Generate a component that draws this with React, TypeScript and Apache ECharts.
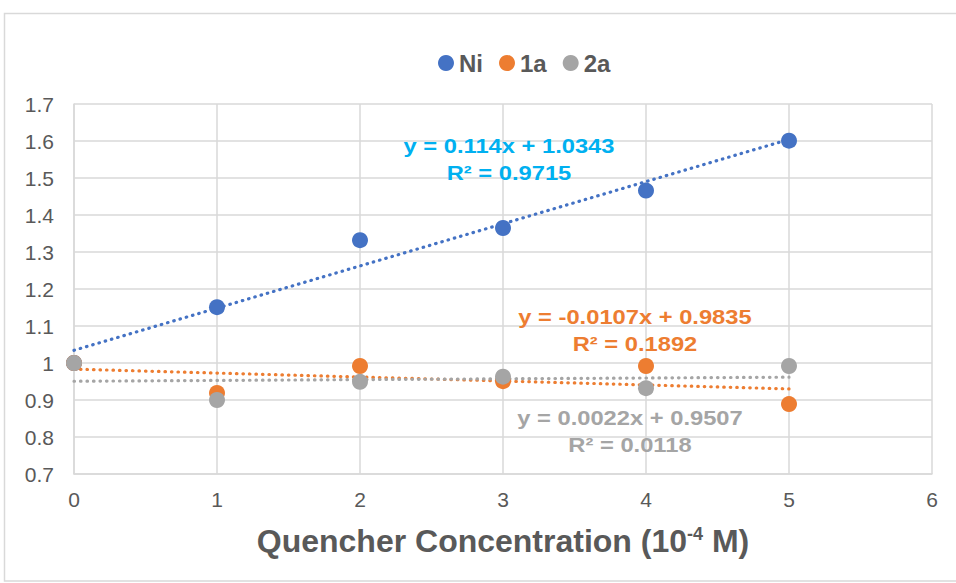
import React, { useEffect, useRef } from "react";
import * as echarts from "echarts";

const xValues = [0, 1, 2, 3, 4, 5];
const niValues = [1.0, 1.151, 1.332, 1.365, 1.466, 1.601];
const a1Values = [1.0, 0.919, 0.992, 0.951, 0.992, 0.889];
const a2Values = [1.0, 0.9, 0.949, 0.963, 0.932, 0.992];

const seriesNames = ["Ni", "1a", "2a"];
const seriesColors = ["#4472c4", "#ed7d31", "#a5a5a5"];
const labelColors = ["#00b0f0", "#ed7d31", "#a5a5a5"];
const slopes = [0.114, -0.0107, 0.0022];
const intercepts = [1.0343, 0.9835, 0.9507];
const equations = ["y = 0.114x + 1.0343", "y = -0.0107x + 0.9835", "y = 0.0022x + 0.9507"];
const r2Labels = ["R² = 0.9715", "R² = 0.1892", "R² = 0.0118"];

const FONT = "'Liberation Sans', Arial, sans-serif";

export default function App() {
  const ref = useRef<HTMLDivElement>(null);
  useEffect(() => {
    if (!ref.current) return;
    const chart = echarts.init(ref.current, null, { renderer: "svg" });
    const all = [niValues, a1Values, a2Values];
    const scatter = all.map((vals, i) => ({
      name: seriesNames[i],
      type: "scatter",
      symbol: "circle",
      symbolSize: 16,
      z: 5,
      itemStyle: { color: seriesColors[i], opacity: 1 },
      data: xValues.map((x, j) => [x, vals[j]]),
    }));
    const trends = slopes.map((m, i) => ({
      name: seriesNames[i] + " trend",
      type: "line",
      symbol: "none",
      z: 3,
      lineStyle: { color: seriesColors[i], width: 3.2, type: [0.5, 6], cap: "round" },
      data: [
        [xValues[0], intercepts[i] + m * xValues[0]],
        [xValues[xValues.length - 1], intercepts[i] + m * xValues[xValues.length - 1]],
      ],
    }));
    const labelPos = [
      [509, 146, 173],
      [635, 317, 344],
      [630, 418, 445],
    ];
    const graphics: any[] = [
      {
        type: "rect",
        shape: { x: 4.5, y: 13.5, width: 1000, height: 567.5 },
        style: { fill: "none", stroke: "#d9d9d9", lineWidth: 1.5 },
        silent: true,
      },
    ];
    labelPos.forEach((p, i) => {
      [equations[i], r2Labels[i]].forEach((t, k) => {
        graphics.push({
          type: "text",
          x: p[0],
          y: p[k + 1],
          scaleX: 1.13,
          style: {
            text: t,
            fill: labelColors[i],
            font: `bold 21px ${FONT}`,
            align: "center",
            verticalAlign: "middle",
          },
          z: 10,
        });
      });
    });
    chart.setOption({
      animation: false,
      backgroundColor: "#ffffff",
      textStyle: { fontFamily: FONT },
      grid: { left: 74, right: 24, top: 104, bottom: 109, containLabel: false },
      legend: {
        data: seriesNames,
        top: 46,
        left: 433,
        icon: "circle",
        itemWidth: 16,
        itemHeight: 16,
        itemGap: 16,
        textStyle: { fontSize: 24, fontWeight: "bold", color: "#595959", fontFamily: FONT },
      },
      xAxis: {
        type: "value",
        min: 0,
        max: 6,
        interval: 1,
        name: "Quencher Concentration (10{sup|-4} M)",
        nameLocation: "middle",
        nameGap: 51,
        nameTextStyle: {
          fontSize: 32,
          fontWeight: "bold",
          color: "#595959",
          fontFamily: FONT,
          rich: {
            sup: { fontSize: 18, fontWeight: "bold", color: "#595959", verticalAlign: "top", lineHeight: 30, fontFamily: FONT },
          },
        },
        axisLine: { show: true, lineStyle: { color: "#d9d9d9", width: 1.5 } },
        axisTick: { show: false },
        axisLabel: { fontSize: 21, color: "#595959", margin: 15 },
        splitLine: { show: true, lineStyle: { color: "#d9d9d9", width: 1.5 } },
      },
      yAxis: {
        type: "value",
        min: 0.7,
        max: 1.7,
        interval: 0.1,
        axisLine: { show: true, lineStyle: { color: "#d9d9d9", width: 1.5 } },
        axisTick: { show: false },
        axisLabel: {
          fontSize: 21,
          color: "#595959",
          margin: 20,
          formatter: (v: number) => String(parseFloat(v.toFixed(1))),
        },
        splitLine: { show: true, lineStyle: { color: "#d9d9d9", width: 1.5 } },
      },
      series: [...trends, ...scatter],
      graphic: graphics,
    });
    return () => chart.dispose();
  }, []);
  return (
    <div
      ref={ref}
      style={{ position: "fixed", left: 0, top: 0, width: 956, height: 583 }}
    />
  );
}
